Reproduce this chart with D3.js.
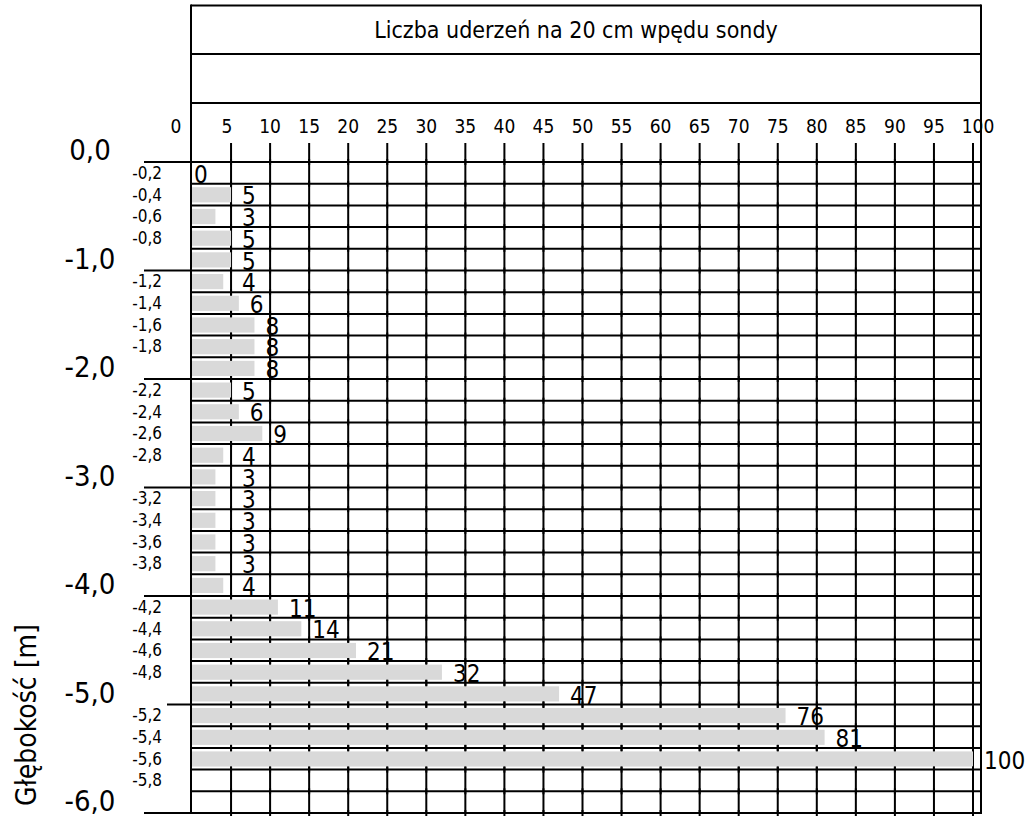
<!DOCTYPE html>
<html>
<head>
<meta charset="utf-8">
<script src="https://cdn.jsdelivr.net/npm/d3@7"></script>
<style>
  html, body { margin: 0; padding: 0; background: #fff; }
  svg text { font-family: "DejaVu Sans Condensed", "DejaVu Sans", Verdana, sans-serif; fill: #000; }
</style>
</head>
<body>
<svg id="chart" width="1033" height="817"></svg>
<script>
// Dynamic probing: number of blows per 20 cm of penetration, by depth interval
const chartTitle = "Liczba uderzeń na 20 cm wpędu sondy";
const axisTitle = "Głębokość [m]";
const blowTicks = [0, 5, 10, 15, 20, 25, 30, 35, 40, 45, 50, 55, 60, 65, 70, 75, 80, 85, 90, 95, 100];
const meterDepths = [0, 1, 2, 3, 4, 5, 6];
const rowStep = 0.2;
const maxDepth = 6.0;
// blows for consecutive 0.2 m intervals, starting at 0,0 m
const blows = [0, 5, 3, 5, 5, 4, 6, 8, 8, 8, 5, 6, 9, 4, 3, 3, 3, 3, 3, 4, 11, 14, 21, 32, 47, 76, 81, 100];

const svg = d3.select("#chart");
const x = d3.scaleLinear().domain([0, 100]).range([192, 973]);
const y = d3.scaleLinear().domain([0, maxDepth]).range([162, 813]);
const rowH = y(rowStep) - y(0);
const fmt = v => (v === 0 ? "" : "-") + d3.format(".1f")(v).replace(".", ",");

const left = x(0) - 1, right = x(100) + 8;
const boxTop = 5.5, boxMid = 54, boxBottom = 103;
const lineColor = "#000";

svg.append("rect").attr("width", 1033).attr("height", 817).attr("fill", "#fff");

const grid = svg.append("g").attr("stroke", lineColor).attr("stroke-width", 2);

// header box
[boxTop, boxMid, boxBottom].forEach(yy => {
  grid.append("line").attr("x1", left).attr("x2", right).attr("y1", yy).attr("y2", yy);
});
grid.append("line").attr("x1", left).attr("x2", left).attr("y1", boxTop - 1).attr("y2", y(maxDepth) + 1);
grid.append("line").attr("x1", right).attr("x2", right).attr("y1", boxTop - 1).attr("y2", y(maxDepth) + 1);

svg.append("text")
  .attr("x", (left + right) / 2 - 10).attr("y", (boxTop + boxMid) / 2)
  .attr("text-anchor", "middle").attr("dominant-baseline", "central")
  .attr("font-size", 23).text(chartTitle);

// vertical grid lines every 5 blows
grid.selectAll("line.v").data(blowTicks.filter(d => d > 0)).join("line")
  .attr("class", "v")
  .attr("x1", d => x(d)).attr("x2", d => x(d))
  .attr("y1", 143).attr("y2", y(maxDepth));

// blow count tick labels
const tickShift = d => d === 0 ? -16 : d === 5 ? -4 : d === 100 ? 5 : 0;
svg.selectAll("text.xt").data(blowTicks).join("text")
  .attr("class", "xt")
  .attr("x", d => x(d) + tickShift(d)).attr("y", 126)
  .attr("text-anchor", "middle").attr("dominant-baseline", "central")
  .attr("font-size", 19).text(d => d);

// horizontal lines at each 0.2 m
const rowDepths = d3.range(0, Math.round(maxDepth / rowStep) + 1).map(i => +(i * rowStep).toFixed(1));
const isMeter = d => Math.abs(d - Math.round(d)) < 1e-6;
grid.selectAll("line.h").data(rowDepths).join("line")
  .attr("class", "h")
  .attr("x1", d => isMeter(d) ? (d === 5 ? 167 : 144) : left)
  .attr("x2", right)
  .attr("y1", d => y(d)).attr("y2", d => y(d));

// bars
svg.append("g").selectAll("rect").data(blows).join("rect")
  .attr("x", x(0))
  .attr("y", (d, i) => y(i * rowStep) + 3.5)
  .attr("width", d => x(d) - x(0))
  .attr("height", rowH - 6.5)
  .attr("fill", "#d9d9d9");

// short crossing ticks on the horizontal rules, kept visible over the bars
const crossTicks = [];
rowDepths.forEach(d => blowTicks.filter(t => t > 0).forEach(t => crossTicks.push({ d, t })));
svg.append("g").attr("stroke", lineColor).attr("stroke-width", 2)
  .selectAll("line").data(crossTicks).join("line")
  .attr("x1", c => x(c.t)).attr("x2", c => x(c.t))
  .attr("y1", c => y(c.d) - 3).attr("y2", c => y(c.d) + 3);

// value labels
const labelX = v => v === 0 ? x(0) + 2 : Math.max(x(v), x(5)) + 11;
svg.append("g").selectAll("text").data(blows).join("text")
  .attr("x", d => labelX(d))
  .attr("y", (d, i) => y((i + 1) * rowStep) - 1)
  .attr("font-size", 24).text(d => d);

// depth labels: whole meters
svg.append("g").selectAll("text").data(meterDepths).join("text")
  .attr("x", 90).attr("y", d => y(d) - 12)
  .attr("text-anchor", "middle").attr("dominant-baseline", "central")
  .attr("font-size", 29).text(d => fmt(d));

// depth labels: 0.2 m steps, inside each interval
const minorDepths = rowDepths.filter(d => d > 0 && !isMeter(d));
svg.append("g").selectAll("text").data(minorDepths).join("text")
  .attr("x", 162).attr("y", d => y(d) - rowH / 2)
  .attr("text-anchor", "end").attr("dominant-baseline", "central")
  .attr("font-size", 17).text(d => fmt(d));

// axis title
svg.append("text")
  .attr("transform", "translate(26,715) rotate(-90)")
  .attr("text-anchor", "middle").attr("dominant-baseline", "central")
  .attr("font-size", 28).text(axisTitle);
</script>
</body>
</html>
